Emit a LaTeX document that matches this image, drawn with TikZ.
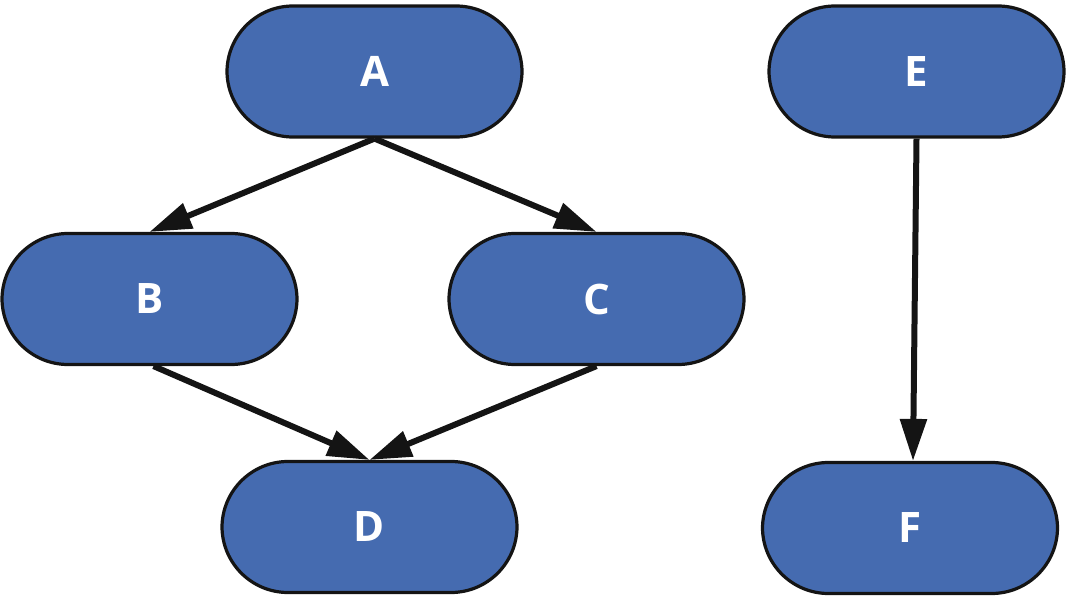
\documentclass[tikz,border=0pt]{standalone}
\usepackage{fontspec}
\setmainfont{Open Sans}
\usetikzlibrary{arrows.meta,calc}
\definecolor{boxblue}{RGB}{69,107,176}
\definecolor{edgeblack}{RGB}{20,20,20}
\begin{document}
\begin{tikzpicture}[x=1pt,y=-1pt,
  stadium/.style={draw=edgeblack,line width=3.2pt,fill=boxblue,rectangle,
    rounded corners=66pt,minimum width=295pt,minimum height=131pt,inner sep=0pt,
    text=white,font=\fontsize{42}{48}\selectfont\bfseries},
  conn/.style={draw=edgeblack,line width=6pt,-{Triangle[length=42pt,width=26pt]}}]
\useasboundingbox (0,0) rectangle (1067,596);
\node[stadium] (A) at (374.5,71.5) {A};
\node[stadium] (E) at (916.5,71.5) {E};
\node[stadium] (B) at (149.5,299) {B};
\node[stadium] (C) at (596.5,299) {C};
\node[stadium] (D) at (369.5,527) {D};
\node[stadium] (F) at (910,528) {F};
\draw[conn] (A.south) -- (B.north);
\draw[conn] (A.south) -- (C.north);
\draw[conn] ($(B.south)+(4,0)$) -- (D.north);
\draw[conn] (C.south) -- (D.north);
\draw[conn] (E.south) -- ($(F.north)+(3,0)$);
\end{tikzpicture}
\end{document}
